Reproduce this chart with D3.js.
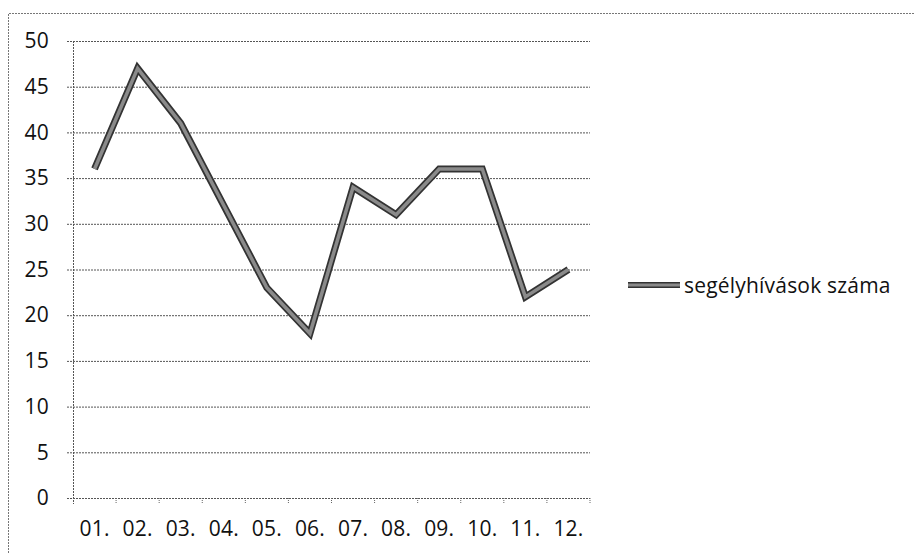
<!DOCTYPE html>
<html>
<head>
<meta charset="utf-8">
<script src="https://cdn.jsdelivr.net/npm/d3@7"></script>
<style>
  body { margin: 0; background: #fff; overflow: hidden; }
  svg { display: block; }
  svg text { font-family: "Open Sans", sans-serif; fill: #111; font-weight: 500; letter-spacing: 0.2px; }
</style>
</head>
<body>
<div id="chart"></div>
<script>
const months = ["01.", "02.", "03.", "04.", "05.", "06.", "07.", "08.", "09.", "10.", "11.", "12."];
const calls = [36, 47, 41, 32, 23, 18, 34, 31, 36, 36, 22, 25];
const yTicks = [0, 5, 10, 15, 20, 25, 30, 35, 40, 45, 50];
const seriesName = "segélyhívások száma";

const width = 914, height = 553;
const margin = { top: 41, right: 324, bottom: 55, left: 73 };
const innerWidth = width - margin.left - margin.right;
const innerHeight = height - margin.top - margin.bottom;

const svg = d3.select("#chart").append("svg").attr("width", width).attr("height", height);

// outer chart frame (only top and left edges are inside the picture)
svg.append("path")
  .attr("d", "M8.5,553 L8.5,13.5 L914,13.5")
  .attr("fill", "none").attr("stroke", "#777").attr("stroke-dasharray", "2,1");

const x = d3.scaleBand().domain(months).range([0, innerWidth]);
const y = d3.scaleLinear().domain([0, 50]).range([innerHeight, 0]);

const g = svg.append("g").attr("transform", `translate(${margin.left},${margin.top})`);

// gridlines + y labels
const yAxis = d3.axisLeft(y).tickValues(yTicks).tickSize(-innerWidth).tickPadding(0).tickSizeOuter(0);
g.append("g").call(yAxis).call(s => {
  s.select(".domain").remove();
  s.selectAll(".tick line").attr("x1", -6).attr("stroke", "#555").attr("stroke-dasharray", "2,1");
  s.selectAll(".tick text").attr("x", -24).attr("font-size", 21).attr("fill", "#111");
});

// y axis line
g.append("line").attr("x1", 0.5).attr("x2", 0.5).attr("y1", 0).attr("y2", innerHeight + 6)
  .attr("stroke", "#555").attr("stroke-dasharray", "2,1");

// x axis ticks at band edges
const xAxis = d3.axisBottom(x).tickSize(0).tickPadding(23);
g.append("g").attr("transform", `translate(0,${innerHeight})`).call(xAxis).call(s => {
  s.select(".domain").remove();
  s.selectAll(".tick text").attr("font-size", 21).attr("fill", "#111");
});
g.append("g").selectAll("line").data(months).join("line")
  .attr("x1", d => x(d) + x.bandwidth()).attr("x2", d => x(d) + x.bandwidth())
  .attr("y1", innerHeight).attr("y2", innerHeight + 5)
  .attr("stroke", "#666").attr("stroke-dasharray", "1,1");

// series line
const line = d3.line().x((d, i) => x(months[i]) + x.bandwidth() / 2).y(d => y(d));
g.append("path").datum(calls).attr("d", line)
  .attr("fill", "none").attr("stroke", "#333").attr("stroke-width", 7).attr("stroke-linejoin", "miter");
g.append("path").datum(calls).attr("d", line)
  .attr("fill", "none").attr("stroke", "#8a8a8a").attr("stroke-width", 3.5).attr("stroke-linejoin", "miter");

// legend
const lg = svg.append("g").attr("transform", "translate(628,285)");
lg.append("line").attr("x1", 0).attr("x2", 52).attr("stroke", "#333").attr("stroke-width", 6);
lg.append("line").attr("x1", 0).attr("x2", 52).attr("stroke", "#8a8a8a").attr("stroke-width", 3);
lg.append("text").attr("x", 56).attr("y", 8).attr("font-size", 21).text(seriesName);
</script>
</body>
</html>
